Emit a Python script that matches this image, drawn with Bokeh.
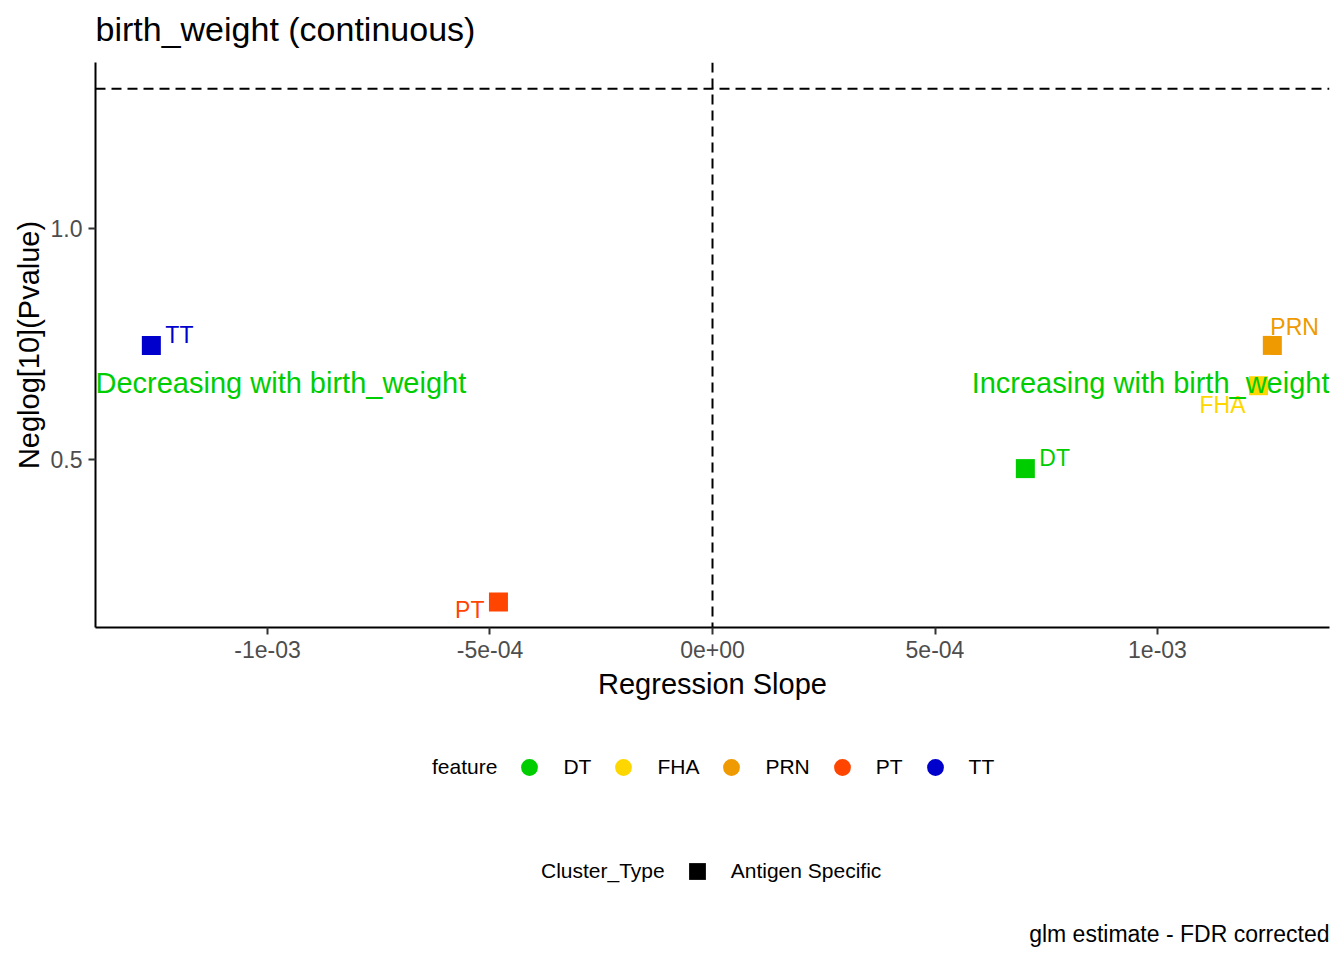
from bokeh.plotting import figure
from bokeh.layouts import column
from bokeh.models import (Span, Label, Legend, LegendItem, FixedTicker, Range1d,
                          ColumnDataSource)
from bokeh.core.properties import value
from bokeh.embed import file_html
from bokeh.resources import INLINE

# ---- data ----
features = ["DT", "FHA", "PRN", "PT", "TT"]
slopes = [7.03e-4, 1.227e-3, 1.258e-3, -4.81e-4, -1.261e-3]
neglogp = [0.481, 0.660, 0.747, 0.193, 0.747]
colors = ["#00CD00", "#FFD700", "#EE9A00", "#FF4500", "#0000CD"]
cluster_types = ["Antigen Specific"]
x_ticks = [-1e-3, -5e-4, 0.0, 5e-4, 1e-3]
x_tick_labels = ["-1e-03", "-5e-04", "0e+00", "5e-04", "1e-03"]
y_ticks = [0.5, 1.0]
y_tick_labels = ["0.5", "1.0"]
sig_threshold = 1.30103
zero_slope = 0.0
x_limits = (-1.3865e-3, 1.3865e-3)
y_limits = (0.138, 1.3577)
annot_y = 0.665

# label placement (screen px offsets, repel-like)
label_dx = [14, -13, -2, -14, 14]
label_dy = [-11, 19, -18, 8, -10]
label_align = ["left", "right", "left", "right", "left"]

FONT = "Liberation Sans"

src = ColumnDataSource(dict(x=slopes, y=neglogp, feature=features, color=colors,
                            dx=label_dx, dy=label_dy, align=label_align))


def strip(height):
    f = figure(width=1344, height=height, output_backend="svg", toolbar_location=None,
               x_axis_type=None, y_axis_type=None, title=None,
               x_range=Range1d(*x_limits), y_range=Range1d(*y_limits),
               min_border_left=0, min_border_right=0, min_border_top=0,
               min_border_bottom=0)
    f.outline_line_color = None
    f.xgrid.visible = False
    f.ygrid.visible = False
    f.background_fill_color = "white"
    f.border_fill_color = "white"
    return f

# ---- title strip (frame aligned with the main plot's frame) ----
tp = strip(62)
tp.add_layout(Label(x=0, y=34, x_units="screen", y_units="screen",
                    text="birth_weight (continuous)", text_align="left",
                    text_baseline="middle", text_font=FONT, text_font_size="34px",
                    text_color="black"))

# ---- main plot ----
p = figure(width=1344, height=648, output_backend="svg", toolbar_location=None,
           title=None,
           x_range=Range1d(*x_limits), y_range=Range1d(*y_limits),
           min_border_left=95, min_border_right=15, min_border_top=0,
           min_border_bottom=83)
p.background_fill_color = "white"
p.border_fill_color = "white"
p.outline_line_color = None
p.xgrid.visible = False
p.ygrid.visible = False

for ax in (p.xaxis[0], p.yaxis[0]):
    ax.axis_line_color = "black"
    ax.axis_line_width = 2
    ax.major_tick_line_color = "#333333"
    ax.major_tick_line_width = 2
    ax.major_tick_out = 7
    ax.major_tick_in = 0
    ax.minor_tick_line_color = None
    ax.major_label_text_font = FONT
    ax.major_label_text_font_size = "23px"
    ax.major_label_text_color = "#4D4D4D"
    ax.axis_label_text_font = FONT
    ax.axis_label_text_font_size = "29px"
    ax.axis_label_text_font_style = "normal"
    ax.axis_label_text_color = "black"
    ax.major_label_standoff = 6
p.xaxis.axis_label_standoff = 7
p.yaxis.axis_label_standoff = 3

p.xaxis.ticker = FixedTicker(ticks=x_ticks)
p.xaxis.major_label_overrides = {t: l for t, l in zip(x_ticks, x_tick_labels)}
p.yaxis.ticker = FixedTicker(ticks=y_ticks)
p.yaxis.major_label_overrides = {t: l for t, l in zip(y_ticks, y_tick_labels)}
p.xaxis.axis_label = "Regression Slope"
p.yaxis.axis_label = "Neglog[10](Pvalue)"

# reference lines
p.add_layout(Span(location=sig_threshold, dimension="width", line_color="black",
                  line_width=2, line_dash="10 6", level="underlay"))
p.add_layout(Span(location=zero_slope, dimension="height", line_color="black",
                  line_width=2, line_dash="10 6", level="underlay"))

# points
p.scatter(x="x", y="y", source=src, marker="square", size=19,
          fill_color="color", line_color=None)

# point labels
p.text(x="x", y="y", text="feature", source=src, x_offset="dx", y_offset="dy",
       text_align="align", text_baseline="middle", text_color="color",
       text_font=value(FONT), text_font_size="23px")

# annotations
p.add_layout(Label(x=x_limits[0], y=annot_y, text="Decreasing with birth_weight",
                   text_align="left", text_baseline="middle", text_color="#00CD00",
                   text_font=FONT, text_font_size="29px"))
p.add_layout(Label(x=x_limits[1], y=annot_y, text="Increasing with birth_weight",
                   text_align="right", text_baseline="middle", text_color="#00CD00",
                   text_font=FONT, text_font_size="29px"))

# ---- legend strip ----
lg = strip(250)

# ghost renderers for legends (size 0: only visible in legend)
ghost_feat = lg.scatter(x="x", y="y", source=src, marker="circle", size=0,
                        fill_color="color", line_color=None)
ghost_clu = lg.scatter(x="x", y="y", source=src, marker="square", size=0,
                       fill_color="black", line_color=None)
ghost_none = lg.scatter(x="x", y="y", source=src, marker="square", size=0,
                        fill_alpha=0, line_alpha=0)

def make_legend(title, items, loc):
    leg = Legend(items=[LegendItem(label=title, renderers=[ghost_none])] + items,
                 location=loc, orientation="horizontal")
    leg.background_fill_alpha = 0
    leg.border_line_color = None
    leg.label_text_font = FONT
    leg.label_text_font_size = "21px"
    leg.label_text_color = "black"
    leg.glyph_width = 42
    leg.glyph_height = 42
    leg.label_standoff = 13
    leg.spacing = 11
    leg.padding = 0
    leg.margin = 0
    return leg

leg1 = make_legend("feature",
                   [LegendItem(label=f, renderers=[ghost_feat], index=i)
                    for i, f in enumerate(features)], (282, 172))
leg2 = make_legend("Cluster_Type",
                   [LegendItem(label=c, renderers=[ghost_clu], index=0)
                    for c in cluster_types], (391, 68))
lg.add_layout(leg1)
lg.add_layout(leg2)

lg.add_layout(Label(x=1234, y=27, x_units="screen", y_units="screen",
                    text="glm estimate - FDR corrected", text_align="right",
                    text_baseline="middle", text_font=FONT, text_font_size="23px",
                    text_color="black"))

layout = column(tp, p, lg, spacing=0)
open("out.html", "w").write(file_html(layout, INLINE))
